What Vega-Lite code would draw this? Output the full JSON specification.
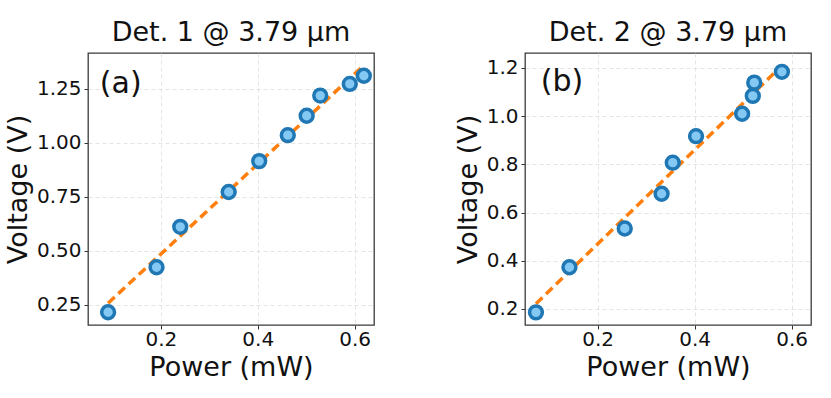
{
  "$schema": "https://vega.github.io/schema/vega-lite/v6.json",
  "background": "white",
  "padding": {"left": 3, "top": 18, "right": 5, "bottom": 5},
  "spacing": 75,
  "config": {
    "font": "DejaVu Sans",
    "view": {"stroke": "#3a3a3a", "strokeWidth": 1.3},
    "axis": {
      "labelFont": "DejaVu Sans", "titleFont": "DejaVu Sans",
      "labelFontSize": 20, "titleFontSize": 27, "labelColor": "#111", "titleColor": "#111",
      "titleFontWeight": "normal", "grid": true, "gridColor": "#dddddd", "gridDash": [4, 3], "gridWidth": 0.8,
      "domain": false, "tickColor": "#333", "tickSize": 4, "labelPadding": 3, "titlePadding": 4
    },
    "axisX": {"titlePadding": 5, "labelPadding": 0},
    "title": {"font": "DejaVu Sans", "fontSize": 27, "fontWeight": "normal", "color": "#111", "offset": 6}
  },
  "datasets": {
    "d1": [
      {"p": 0.091, "v": 0.216}, {"p": 0.191, "v": 0.424}, {"p": 0.240, "v": 0.611},
      {"p": 0.340, "v": 0.772}, {"p": 0.403, "v": 0.915}, {"p": 0.462, "v": 1.035},
      {"p": 0.501, "v": 1.125}, {"p": 0.529, "v": 1.218}, {"p": 0.590, "v": 1.272},
      {"p": 0.619, "v": 1.310}
    ],
    "f1": [{"p": 0.091, "v": 0.258}, {"p": 0.619, "v": 1.358}],
    "d2": [
      {"p": 0.073, "v": 0.186}, {"p": 0.142, "v": 0.373}, {"p": 0.256, "v": 0.534},
      {"p": 0.332, "v": 0.678}, {"p": 0.355, "v": 0.807}, {"p": 0.403, "v": 0.917},
      {"p": 0.498, "v": 1.010}, {"p": 0.520, "v": 1.084}, {"p": 0.523, "v": 1.139},
      {"p": 0.580, "v": 1.184}
    ],
    "f2": [{"p": 0.073, "v": 0.222}, {"p": 0.580, "v": 1.21}],
    "l1": [{"p": 0.074, "v": 1.27, "t": "(a)"}],
    "l2": [{"p": 0.083, "v": 1.143, "t": "(b)"}]
  },
  "hconcat": [
    {
      "width": 286, "height": 272,
      "title": "Det. 1 @ 3.79 µm",
      "layer": [
        {
          "data": {"name": "f1"},
          "mark": {"type": "line", "color": "#ff7f0e", "strokeWidth": 3.5, "strokeDash": [9, 5]},
          "encoding": {
            "x": {"field": "p", "type": "quantitative", "scale": {"domain": [0.0495, 0.64], "nice": false, "zero": false},
                  "axis": {"title": "Power (mW)", "values": [0.2, 0.4, 0.6], "format": ".1f"}},
            "y": {"field": "v", "type": "quantitative", "scale": {"domain": [0.157, 1.415], "nice": false, "zero": false},
                  "axis": {"title": "Voltage (V)", "values": [0.25, 0.5, 0.75, 1.0, 1.25], "format": ".2f"}}
          }
        },
        {
          "data": {"name": "d1"},
          "mark": {"type": "point", "shape": "circle", "filled": true, "fill": "#84c8f4", "stroke": "#1f77b4", "strokeWidth": 3.5, "size": 165, "opacity": 1},
          "encoding": {
            "x": {"field": "p", "type": "quantitative"},
            "y": {"field": "v", "type": "quantitative"}
          }
        },
        {
          "data": {"name": "l1"},
          "mark": {"type": "text", "fontSize": 30, "align": "left", "baseline": "middle", "color": "#111"},
          "encoding": {
            "x": {"field": "p", "type": "quantitative"},
            "y": {"field": "v", "type": "quantitative"},
            "text": {"field": "t"}
          }
        }
      ]
    },
    {
      "width": 286, "height": 272,
      "title": "Det. 2 @ 3.79 µm",
      "layer": [
        {
          "data": {"name": "f2"},
          "mark": {"type": "line", "color": "#ff7f0e", "strokeWidth": 3.5, "strokeDash": [9, 5]},
          "encoding": {
            "x": {"field": "p", "type": "quantitative", "scale": {"domain": [0.0504, 0.64], "nice": false, "zero": false},
                  "axis": {"title": "Power (mW)", "values": [0.2, 0.4, 0.6], "format": ".1f"}},
            "y": {"field": "v", "type": "quantitative", "scale": {"domain": [0.1335, 1.262], "nice": false, "zero": false},
                  "axis": {"title": "Voltage (V)", "values": [0.2, 0.4, 0.6, 0.8, 1.0, 1.2], "format": ".1f"}}
          }
        },
        {
          "data": {"name": "d2"},
          "mark": {"type": "point", "shape": "circle", "filled": true, "fill": "#84c8f4", "stroke": "#1f77b4", "strokeWidth": 3.5, "size": 165, "opacity": 1},
          "encoding": {
            "x": {"field": "p", "type": "quantitative"},
            "y": {"field": "v", "type": "quantitative"}
          }
        },
        {
          "data": {"name": "l2"},
          "mark": {"type": "text", "fontSize": 30, "align": "left", "baseline": "middle", "color": "#111"},
          "encoding": {
            "x": {"field": "p", "type": "quantitative"},
            "y": {"field": "v", "type": "quantitative"},
            "text": {"field": "t"}
          }
        }
      ]
    }
  ]
}
